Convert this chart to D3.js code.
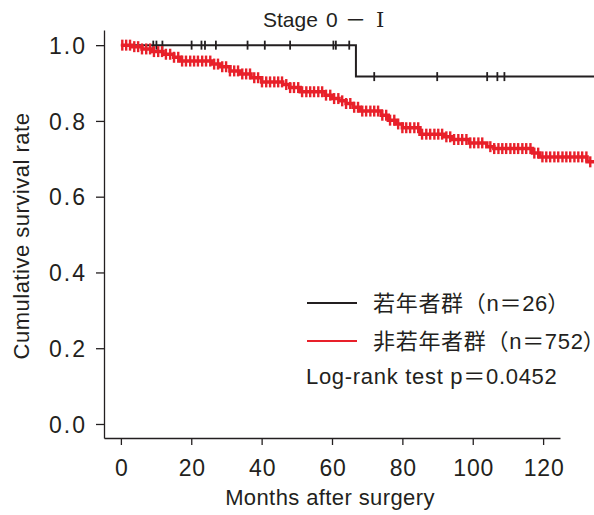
<!DOCTYPE html>
<html>
<head>
<meta charset="utf-8">
<script src="https://cdn.jsdelivr.net/npm/d3@7"></script>
<style>
  html, body { margin: 0; padding: 0; background: #fff; }
  svg text { font-family: "Liberation Sans", Arial, "Noto Sans CJK JP", sans-serif; fill: #231f20; }
  .axis path, .axis line { stroke: #231f20; stroke-width: 1.3; }
  .cjk { font-family: "Noto Sans CJK JP", sans-serif; }
  .roman { font-family: "DejaVu Serif", "Liberation Serif", "Noto Sans CJK JP", serif; }
  .prop { font-feature-settings: "palt"; }
</style>
</head>
<body>
<div id="chart"></div>
<script>
// Kaplan-Meier curves, stage 0-I
const xTicks = [0, 20, 40, 60, 80, 100, 120];
const yTicks = [0, 0.2, 0.4, 0.6, 0.8, 1.0];
const lastMonth = 134.5;

// young group (n=26): [month, survival] step points
const youngSteps = [[0, 1.0], [66.8, 0.917]];
const youngCensor = [9.2, 10.1, 11.8, 20.1, 22.9, 23.9, 27.0, 36.0, 40.9, 48.1,
  60.4, 61.1, 64.9, 72.0, 89.9, 104.1, 107.0, 109.0];

// non-young group (n=752)
const oldSteps = [[0, 1.0], [3, 0.996], [6, 0.990], [9, 0.983], [12, 0.976], [15, 0.968],
  [17, 0.958], [26, 0.950], [28, 0.943], [31, 0.932], [34, 0.924], [37, 0.914], [40, 0.903],
  [46, 0.896], [48, 0.888], [51, 0.877], [58, 0.868], [60, 0.859], [62, 0.853], [64, 0.846],
  [66, 0.836], [68, 0.826], [74, 0.815], [76, 0.802], [78, 0.792], [80, 0.782], [85, 0.765],
  [92, 0.758], [94, 0.751], [99, 0.742], [104, 0.732], [106, 0.727], [117, 0.715],
  [119, 0.705], [132.5, 0.692]];
const oldCensor = [0.4, 1.5, 2.6, 3.8, 4.9, 6.0, 7.2, 8.3, 9.4, 10.6, 11.7, 12.8, 14.0, 15.1,
  16.3, 17.4, 18.5, 19.7, 20.8, 21.9, 23.1, 24.2, 25.4, 26.5, 27.6, 28.8, 29.9, 31.0, 32.2,
  33.3, 34.5, 35.6, 36.7, 37.9, 39.0, 40.1, 41.3, 42.4, 43.6, 44.7, 45.8, 47.0, 48.1, 49.2,
  50.4, 51.5, 52.7, 53.8, 54.9, 56.1, 57.2, 58.3, 59.5, 60.6, 61.8, 62.9, 64.0, 65.2, 66.3,
  67.4, 68.6, 69.7, 70.9, 72.0, 73.1, 74.3, 75.4, 76.5, 77.7, 78.8, 80.0, 81.1, 82.2, 83.4,
  84.5, 85.6, 86.8, 87.9, 89.1, 90.2, 91.3, 92.5, 93.6, 94.7, 95.9, 97.0, 98.2, 99.3, 100.4,
  101.6, 102.7, 105.0, 106.1, 107.3, 108.4, 109.5, 110.7, 111.8, 112.9, 114.1, 115.2, 116.4,
  117.5, 118.6, 119.8, 120.9, 122.0, 123.2, 124.3, 125.5, 126.6, 127.7, 128.9, 130.0, 131.1,
  132.3, 133.4];

const series = [
  { label: '若年者群（n＝26', steps: youngSteps, censor: youngCensor, color: '#231f20', lw: 2, tw: 1.8, th: 9 },
  { label: '非若年者群（n＝752', steps: oldSteps, censor: oldCensor, color: '#e8202a', lw: 3.5, tw: 2.4, th: 11 }
];

const W = 594, H = 515;
const svg = d3.select('#chart').append('svg').attr('width', W).attr('height', H);

const x = d3.scaleLinear().domain([-4.8, 124.8]).range([104, 560]);
const y = d3.scaleLinear().domain([-0.037, 1.04]).range([438, 30]);

// axes
const gx = svg.append('g').attr('class', 'axis').attr('transform', 'translate(0,438)')
  .call(d3.axisBottom(x).tickValues(xTicks).tickSize(7).tickSizeOuter(0).tickFormat(d3.format('d')));
gx.selectAll('text').attr('y', 38).attr('dy', 0).attr('dx', 0.5)
  .style('font-size', '23px').style('letter-spacing', '0.8px');

const gy = svg.append('g').attr('class', 'axis').attr('transform', 'translate(104,0)')
  .call(d3.axisLeft(y).tickValues(yTicks).tickSize(8).tickSizeOuter(0).tickFormat(d3.format('.1f')));
gy.selectAll('text').attr('x', -17).attr('dy', '0.36em')
  .style('font-size', '23px').style('letter-spacing', '2px');
svg.selectAll('.axis .domain').attr('fill', 'none');

// titles
const title = svg.append('text').attr('y', 27).style('font-size', '21px');
title.append('tspan').attr('x', 263).text('Stage');
title.append('tspan').attr('x', 326).text('0');
title.append('tspan').attr('class', 'cjk').attr('x', 345).text('－');
title.append('tspan').attr('class', 'roman').attr('x', 376).text('Ⅰ');

svg.append('text').attr('x', 330).attr('y', 505).attr('text-anchor', 'middle')
  .style('font-size', '22px').style('letter-spacing', '0.4px').text('Months after surgery');
svg.append('text').attr('transform', 'translate(29,236) rotate(-90)').attr('text-anchor', 'middle')
  .style('font-size', '22px').style('letter-spacing', '0.5px').text('Cumulative survival rate');

// survival value at time t
const survAt = (steps, t) => {
  let s = steps[0][1];
  for (const [m, v] of steps) if (m <= t) s = v;
  return s;
};

const line = d3.line().x(d => x(d[0])).y(d => y(d[1])).curve(d3.curveStepAfter);

series.forEach(s => {
  const pts = s.steps.concat([[lastMonth, s.steps[s.steps.length - 1][1]]]);
  const g = svg.append('g');
  g.append('path').attr('d', line(pts)).attr('fill', 'none')
    .attr('stroke', s.color).attr('stroke-width', s.lw);
  g.selectAll('line').data(s.censor).join('line')
    .attr('x1', d => x(d)).attr('x2', d => x(d))
    .attr('y1', d => y(survAt(s.steps, d)) - s.th / 2)
    .attr('y2', d => y(survAt(s.steps, d)) + s.th / 2)
    .attr('stroke', s.color).attr('stroke-width', s.tw);
});

// legend
const leg = svg.append('g');
series.forEach((s, i) => {
  const ly = 303 + i * 38;
  leg.append('line').attr('x1', 307).attr('x2', 357).attr('y1', ly).attr('y2', ly)
    .attr('stroke', s.color).attr('stroke-width', 2);
  const t = leg.append('text').attr('x', 373).attr('y', ly + 8)
    .style('font-size', '22px').style('letter-spacing', '0.7px');
  t.append('tspan').text(s.label);
  t.append('tspan').attr('class', 'prop').style('letter-spacing', '0px').text('）');
});
leg.append('text').attr('x', 306).attr('y', 384).style('font-size', '22px').style('letter-spacing', '0.7px')
  .text('Log-rank test p＝0.0452');
</script>
</body>
</html>
